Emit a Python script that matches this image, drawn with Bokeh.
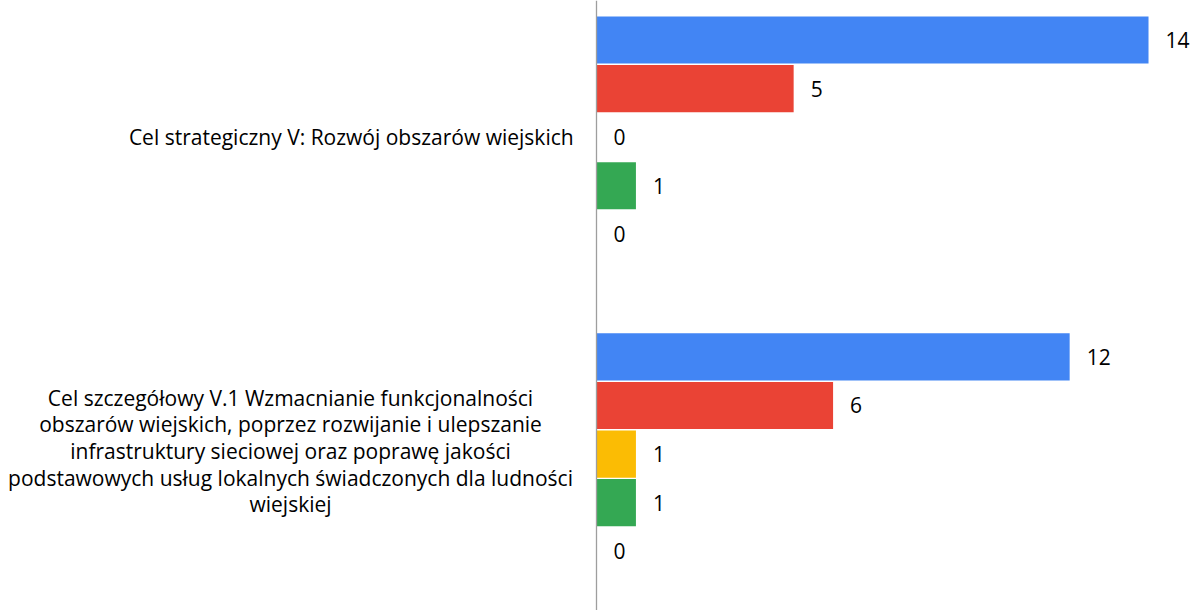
from bokeh.plotting import figure
from bokeh.models import ColumnDataSource, Range1d, Span
from bokeh.core.properties import value
from bokeh.embed import file_html
from bokeh.resources import INLINE

# ---- data ----
categories = [
    "Cel strategiczny V: Rozwój obszarów wiejskich",
    "Cel szczegółowy V.1 Wzmacnianie funkcjonalności\n"
    "obszarów wiejskich, poprzez rozwijanie i ulepszanie\n"
    "infrastruktury sieciowej oraz poprawę jakości\n"
    "podstawowych usług lokalnych świadczonych dla ludności\n"
    "wiejskiej",
]
series_names = ["Seria 1", "Seria 2", "Seria 3", "Seria 4", "Seria 5"]
series_colors = ["#4285F4", "#EA4335", "#FBBC04", "#34A853", "#FF6D01"]
series_1 = [14, 12]
series_2 = [5, 6]
series_3 = [0, 1]
series_4 = [1, 1]
series_5 = [0, 0]
all_series = [series_1, series_2, series_3, series_4, series_5]

# ---- layout parameters ----
W, H = 1198, 610
PX_PER_UNIT = 39.43
AXIS_PX = 596
GROUP_STEP = 6.52
SLOT_PX = 48.6
FIRST_SLOT_PX = 39.5
FONT = "Open Sans"
FS = "21px"

x_start = -AXIS_PX / PX_PER_UNIT
x_end = x_start + W / PX_PER_UNIT
y_top = -FIRST_SLOT_PX / SLOT_PX
y_bottom = (H - FIRST_SLOT_PX) / SLOT_PX

p = figure(width=W, height=H, output_backend="svg", toolbar_location=None,
           x_range=Range1d(x_start, x_end), y_range=Range1d(y_bottom, y_top),
           min_border=0)
p.axis.visible = False
p.grid.visible = False
p.outline_line_color = None
p.background_fill_color = "white"
p.border_fill_color = "white"

for j, (name, color, vals) in enumerate(zip(series_names, series_colors, all_series)):
    ys = [i * GROUP_STEP + j for i in range(len(categories))]
    src = ColumnDataSource(dict(y=ys, v=vals, lbl=[str(v) for v in vals]))
    p.hbar(y="y", left=0, right="v", height=0.97, source=src,
           fill_color=color, line_color=None)
    p.text(x="v", y="y", text="lbl", source=src, x_offset=17,
           text_align="left", text_baseline="middle",
           text_font=value(FONT), text_font_size=FS, text_color="#000000")

# category labels
cat_y = [i * GROUP_STEP + 2 for i in range(len(categories))]
src1 = ColumnDataSource(dict(x=[-0.58], y=[cat_y[0]], t=[categories[0]]))
p.text(x="x", y="y", text="t", source=src1, text_align="right",
       text_baseline="middle", text_font=value(FONT), text_font_size=FS,
       text_color="#000000")
src2 = ColumnDataSource(dict(x=[-7.76], y=[cat_y[1]], t=[categories[1]]))
p.text(x="x", y="y", text="t", source=src2, text_align="center",
       text_baseline="middle", text_font=value(FONT), text_font_size=FS,
       text_color="#000000", text_line_height=0.95, y_offset=-3)

p.add_layout(Span(location=0, dimension="height", line_color="#9E9E9E",
                  line_width=1.3))

open("out.html", "w").write(file_html(p, INLINE))
